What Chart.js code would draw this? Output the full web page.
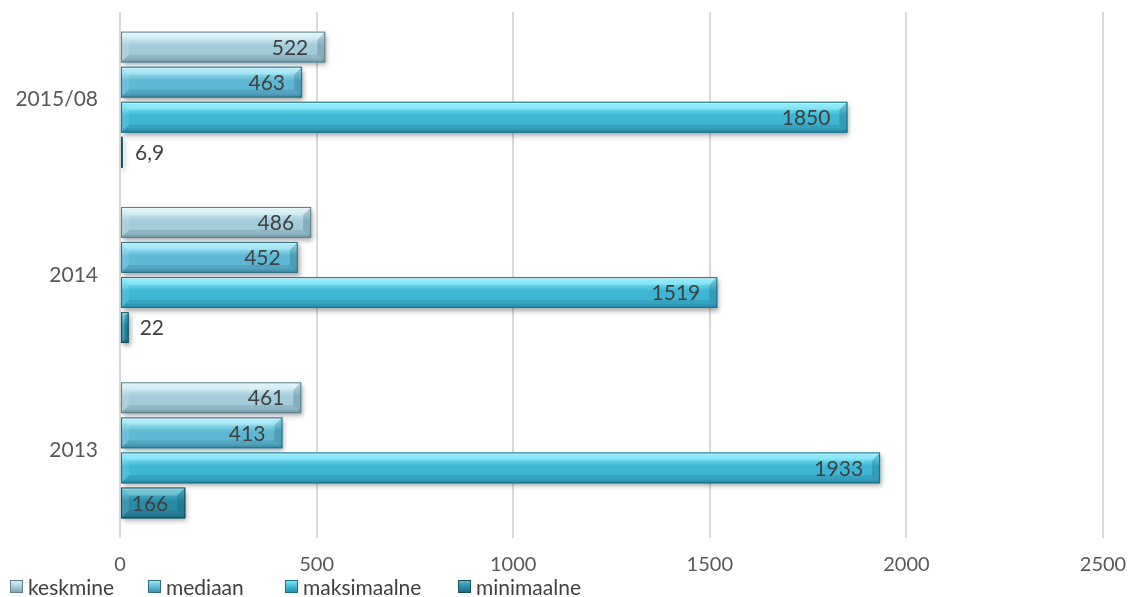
<!DOCTYPE html>
<html>
<head>
<meta charset="utf-8">
<script src="https://cdn.jsdelivr.net/npm/chart.js@4/dist/chart.umd.min.js"></script>
<style>
html,body{margin:0;padding:0;background:#fff;}
#wrap{width:1130px;height:597px;position:relative;}
#legend{position:absolute;left:0;top:576px;width:1130px;height:21px;font-family:Lato,'Open Sans',sans-serif;font-size:21px;color:#404040;}
.item{position:absolute;top:0;height:21px;line-height:21px;white-space:nowrap;}
.box{position:absolute;left:0;top:4px;width:13px;height:13px;box-sizing:border-box;}
.lbl{position:absolute;left:18px;top:0;}
</style>
</head>
<body>
<div id="wrap"><canvas id="c"></canvas><div id="legend"></div></div>
<script>
const categories = ['2015/08', '2014', '2013'];
const seriesNames = ['keskmine', 'mediaan', 'maksimaalne', 'minimaalne'];
const keskmine = [522, 486, 461];
const mediaan = [463, 452, 413];
const maksimaalne = [1850, 1519, 1933];
const minimaalne = [6.9, 22, 166];
const xTicks = [0, 500, 1000, 1500, 2000, 2500];

const baseColors = ['#a3ccd9', '#5fb8d3', '#3db5d3', '#2a8ba5'];
const topColors = ['#d3eef5', '#9be6f6', '#76e6f9', '#4fb8d0'];
const bottomColors = ['#7ea8b6', '#3f93ad', '#2593b1', '#1f6d82'];
const edgeColors = ['#5c7f8b', '#2e6e82', '#1f6f86', '#174e5c'];
const legendLeft = [10, 148, 285, 458];

const FONT = "Lato, 'Open Sans', sans-serif";

const bevelPlugin = {
  id: 'bevel',
  beforeDatasetsDraw(chart) {
    const ctx = chart.ctx;
    ctx.save();
    ctx.shadowColor = 'rgba(0,0,0,0.35)';
    ctx.shadowBlur = 5;
    ctx.shadowOffsetX = 2;
    ctx.shadowOffsetY = 3;
  },
  afterDatasetsDraw(chart) {
    const ctx = chart.ctx;
    ctx.restore();
    chart.data.datasets.forEach((ds, di) => {
      const meta = chart.getDatasetMeta(di);
      meta.data.forEach((bar, i) => {
        const p = bar.getProps(['x', 'y', 'base', 'height'], true);
        const x0 = p.base, x1 = p.x;
        const h = p.height;
        const y0 = p.y - h / 2, y1 = p.y + h / 2;
        const w = x1 - x0;
        ctx.save();
        const g = ctx.createLinearGradient(0, y0, 0, y1);
        g.addColorStop(0, topColors[di]);
        g.addColorStop(0.15, topColors[di]);
        g.addColorStop(0.45, baseColors[di]);
        g.addColorStop(0.85, baseColors[di]);
        g.addColorStop(1, bottomColors[di]);
        ctx.fillStyle = g;
        ctx.fillRect(x0, y0, w, h);
        ctx.fillStyle = 'rgba(255,255,255,0.45)';
        ctx.fillRect(x0, y0, w, Math.min(2, h));
        const bv = Math.min(8, w / 2);
        if (w > 4) {
          ctx.beginPath();
          ctx.moveTo(x1, y0);
          ctx.lineTo(x1 - bv, y0 + bv);
          ctx.lineTo(x1 - bv, y1 - bv);
          ctx.lineTo(x1, y1);
          ctx.closePath();
          ctx.fillStyle = 'rgba(0,40,60,0.18)';
          ctx.fill();
          ctx.beginPath();
          ctx.moveTo(x1, y0);
          ctx.lineTo(x1 - bv, y0 + bv);
          ctx.lineTo(x0 + bv, y0 + bv);
          ctx.lineTo(x0, y0);
          ctx.closePath();
          ctx.fillStyle = 'rgba(255,255,255,0.18)';
          ctx.fill();
          ctx.beginPath();
          ctx.moveTo(x1, y1);
          ctx.lineTo(x1 - bv, y1 - bv);
          ctx.lineTo(x0 + bv, y1 - bv);
          ctx.lineTo(x0, y1);
          ctx.closePath();
          ctx.fillStyle = 'rgba(0,30,50,0.12)';
          ctx.fill();
          ctx.beginPath();
          ctx.moveTo(x0, y0);
          ctx.lineTo(x0 + bv, y0 + bv);
          ctx.lineTo(x0 + bv, y1 - bv);
          ctx.lineTo(x0, y1);
          ctx.closePath();
          ctx.fillStyle = 'rgba(255,255,255,0.1)';
          ctx.fill();
        }
        ctx.strokeStyle = edgeColors[di];
        ctx.lineWidth = 1;
        ctx.strokeRect(x0 + 0.5, y0 + 0.5, Math.max(w - 1, 0.5), h - 1);
        ctx.restore();

        const v = ds.data[i];
        const txt = String(v).replace('.', ',');
        ctx.save();
        ctx.font = '21px ' + FONT;
        ctx.fillStyle = '#404040';
        ctx.textBaseline = 'middle';
        const tw = ctx.measureText(txt).width;
        if (w > tw + 20) {
          ctx.textAlign = 'right';
          ctx.fillText(txt, x1 - 17, p.y + 1);
        } else {
          ctx.textAlign = 'left';
          ctx.fillText(txt, Math.max(x1, x0 + 3) + 11, p.y + 1);
        }
        ctx.restore();
      });
    });
  }
};

const seriesData = [keskmine, mediaan, maksimaalne, minimaalne];

const legendEl = document.getElementById('legend');
seriesNames.forEach((n, k) => {
  const it = document.createElement('div');
  it.className = 'item';
  it.style.left = legendLeft[k] + 'px';
  const b = document.createElement('div');
  b.className = 'box';
  b.style.background = 'linear-gradient(180deg,' + topColors[k] + ' 0%,' + baseColors[k] + ' 55%,' + bottomColors[k] + ' 100%)';
  b.style.border = '1px solid ' + edgeColors[k];
  const t = document.createElement('span');
  t.className = 'lbl';
  t.textContent = n;
  it.appendChild(b);
  it.appendChild(t);
  legendEl.appendChild(it);
});

new Chart(document.getElementById('c'), {
  type: 'bar',
  data: {
    labels: categories,
    datasets: seriesNames.map((n, k) => ({
      label: n,
      data: seriesData[k],
      backgroundColor: baseColors[k],
      borderWidth: 0,
      categoryPercentage: 0.8,
      barPercentage: 0.88
    }))
  },
  options: {
    indexAxis: 'y',
    responsive: true,
    maintainAspectRatio: false,
    animation: false,
    layout: { padding: { left: 0, right: 27, top: 12, bottom: 5 } },
    plugins: {
      tooltip: { enabled: false },
      legend: { display: false }
    },
    scales: {
      x: {
        min: 0,
        max: 2500,
        afterBuildTicks(axis) { axis.ticks = xTicks.map(v => ({ value: v })); },
        afterFit(scale) { scale.paddingLeft = 0; scale.paddingRight = 0; },
        grid: { color: '#d9d9d9', lineWidth: 2, drawTicks: false },
        border: { display: false },
        ticks: {
          font: { family: FONT, size: 20 },
          color: '#595959',
          padding: 15,
          callback: (v) => String(v)
        }
      },
      y: {
        afterFit(scale) { scale.width = 120; scale.paddingTop = 0; scale.paddingBottom = 0; },
        grid: { display: false, drawTicks: false },
        border: { display: false },
        ticks: { font: { family: FONT, size: 21 }, color: '#595959', padding: 22 }
      }
    }
  },
  plugins: [bevelPlugin]
});
</script>
</body>
</html>
